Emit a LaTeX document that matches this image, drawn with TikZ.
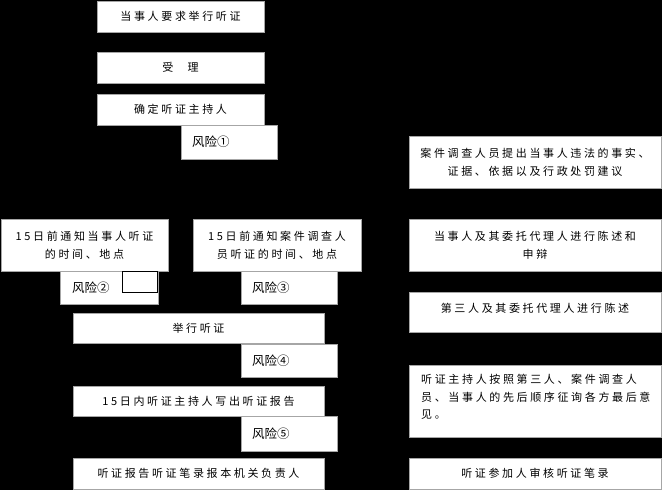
\documentclass[tikz,border=0pt]{standalone}
\usepackage{fontspec}
\newfontfamily\cjk[LetterSpace=24]{Noto Sans CJK SC}
\newfontfamily\cjkn{Noto Sans CJK SC}
\tikzset{
  box/.style={draw=gray!70, line width=0.6pt, fill=white, anchor=north west, inner sep=0pt, outer sep=0pt},
  txt/.style={font=\cjk\fontsize{11}{18}\selectfont, align=center, inner sep=0pt, text=black},
  risk/.style={font=\cjkn\fontsize{12.5}{15}\selectfont, anchor=west, inner sep=0pt, text=black},
}
\newcommand{\bx}[5]{\node[box, minimum width=#3pt, minimum height=#4pt] (#5) at (#1,#2) {};}
\begin{document}
\begin{tikzpicture}[x=1pt,y=-1pt]
\fill[black] (0,0) rectangle (662,490);
\useasboundingbox (0,0) rectangle (662,490);
% left / centre column
\bx{97}{1}{167}{31}{b1}
\node[txt] at (b1.center) {当事人要求举行听证};
\bx{97}{52}{167}{31}{b2}
\node[txt] at (b2.center) {受\hspace{1.3em}理};
\bx{97}{94}{167}{31}{b3}
\node[txt] at (b3.center) {确定听证主持人};
\bx{181}{125}{96}{34}{r1}
\node[risk] (t1) at ([xshift=11pt]r1.west) {风险①};
\bx{1}{219}{167}{52}{b4}
\node[txt] at (b4.center) {15日前通知当事人听证\\的时间、地点};
\bx{193}{219}{168}{52}{b5}
\node[txt] at (b5.center) {15日前通知案件调查人\\员听证的时间、地点};
\bx{60}{271}{98}{33}{r2}
\node[risk] (t2) at ([xshift=12pt]r2.west) {风险②};
\node[draw=black, line width=0.8pt, fill=white, anchor=north west, minimum width=35pt, minimum height=21pt, inner sep=0pt] (k2) at (122,271) {};
\bx{241}{271}{96}{33}{r3}
\node[risk] (t3) at ([xshift=11pt]r3.west) {风险③};
\bx{73}{313}{251}{30}{b6}
\node[txt] at (b6.center) {举行听证};
\bx{241}{344}{96}{33}{r4}
\node[risk] (t4) at ([xshift=11pt]r4.west) {风险④};
\bx{73}{386}{251}{30}{b7}
\node[txt] at (b7.center) {15日内听证主持人写出听证报告};
\bx{241}{416}{96}{35}{r5}
\node[risk] (t5) at ([xshift=11pt]r5.west) {风险⑤};
\bx{73}{458}{251}{31}{b8}
\node[txt] at (b8.center) {听证报告听证笔录报本机关负责人};
% right column
\bx{409}{136}{252}{52}{c1}
\node[txt] at (c1.center) {案件调查人员提出当事人违法的事实、\\证据、依据以及行政处罚建议};
\bx{409}{219}{252}{52}{c2}
\node[txt] at (c2.center) {当事人及其委托代理人进行陈述和\\申辩};
\bx{409}{292}{252}{40}{c3}
\node[txt] at ([yshift=4pt]c3.center) {第三人及其委托代理人进行陈述};
\bx{409}{365}{252}{72}{c4}
\node[txt, align=left, font=\cjk\fontsize{11}{17.5}\selectfont, anchor=north west] at (421,374) {听证主持人按照第三人、案件调查人\\员、当事人的先后顺序征询各方最后意\\见。};
\bx{409}{458}{252}{31}{c5}
\node[txt] at (c5.center) {听证参加人审核听证笔录};
\end{tikzpicture}
\end{document}
